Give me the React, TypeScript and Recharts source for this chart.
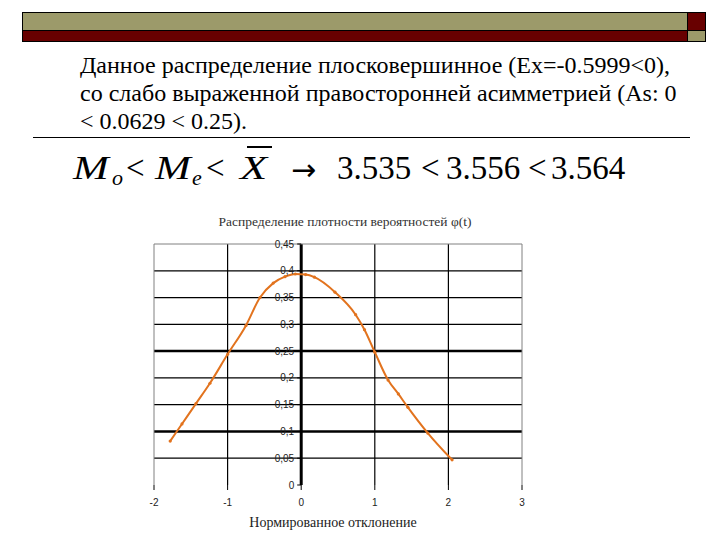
import React from "react";
import { LineChart, Line, XAxis, YAxis, ReferenceLine } from "recharts";

// значения
const T = [-1.78, -1.62, -1.43, -1.24, -1.0, -0.75, -0.56, -0.38, -0.22, -0.08, 0.06, 0.18, 0.46, 0.74, 0.86, 1.0, 1.18, 1.32, 1.45, 1.72, 2.05];
const PHI = [0.082, 0.114, 0.152, 0.19, 0.244, 0.298, 0.35, 0.377, 0.389, 0.394, 0.393, 0.388, 0.36, 0.318, 0.29, 0.248, 0.196, 0.17, 0.145, 0.097, 0.047];
const X_TICKS = [-2, -1, 0, 1, 2, 3];
const Y_TICKS = [0, 0.05, 0.1, 0.15, 0.2, 0.25, 0.3, 0.35, 0.4, 0.45];
const THICK_Y = [0.1, 0.25];

const TEXT_LINES = [
  "Данное распределение плосковершинное (Ex=-0.5999<0),",
  "со слабо выраженной правосторонней асимметрией (As: 0",
  "< 0.0629 < 0.25).",
];
const CHART_TITLE = "Распределение плотности вероятностей φ(t)";
const X_TITLE = "Нормированное отклонение";

const SERIF = '"Liberation Serif", serif';
const SANS = '"Liberation Sans", sans-serif';

const OLIVE = "#9C9A6A";
const DARK_RED = "#680000";
const LINE_COLOR = "#E2731E";

const CHART_W = 460;
const CHART_H = 340;
const Y_AXIS_W = 40;
const MARGIN = { top: 44, right: 38, left: 54 - Y_AXIS_W, bottom: 25 };
const PLOT_LEFT = MARGIN.left + Y_AXIS_W;
const PLOT_W = CHART_W - PLOT_LEFT - MARGIN.right;
// пиксель оси x=0 внутри графика
const AX0 = PLOT_LEFT + (PLOT_W * (0 - X_TICKS[0])) / (X_TICKS[X_TICKS.length - 1] - X_TICKS[0]);

const data = T.map((t, i) => ({ t, phi: PHI[i] }));

// eslint-disable-next-line @typescript-eslint/no-explicit-any
function YTick(props: any) {
  const { y, payload } = props;
  const label = String(payload.value).replace(".", ",");
  return (
    <g>
      <line x1={AX0 - 4} x2={AX0} y1={y} y2={y} stroke="#000" />
      <text x={AX0 - 7} y={y} dy={3.5} textAnchor="end" fontSize={10} fontFamily={SANS} fill="#222">
        {label}
      </text>
    </g>
  );
}

function Tok({ x, base, size, italic, sx, font, children }: { x: number; base: number; size: number; italic?: boolean; sx?: number; font?: string; children: React.ReactNode }) {
  const top = base - ((size - size * 1.107) / 2 + size * 0.891);
  return (
    <span
      style={{
        position: "absolute",
        left: x,
        top,
        fontSize: size,
        lineHeight: 1,
        fontFamily: font || SERIF,
        fontStyle: italic ? "italic" : "normal",
        whiteSpace: "nowrap",
        transform: sx ? `scaleX(${sx})` : undefined,
        transformOrigin: "left",
      }}
    >
      {children}
    </span>
  );
}

export default function App() {
  return (
    <div
      style={{
        position: "fixed",
        left: 0,
        top: 0,
        width: 720,
        height: 540,
        background: "#fff",
        overflow: "hidden",
        fontFamily: SERIF,
        color: "#000",
      }}
    >
      {/* шапка слайда */}
      <div style={{ position: "absolute", left: 22, top: 12, width: 666, height: 19, background: OLIVE, border: "1px solid #000", boxSizing: "border-box" }} />
      <div style={{ position: "absolute", left: 22, top: 30, width: 666, height: 12, background: DARK_RED, border: "1px solid #000", boxSizing: "border-box" }} />
      <div style={{ position: "absolute", left: 687, top: 12, width: 19, height: 19, background: DARK_RED, border: "1px solid #000", boxSizing: "border-box" }} />
      <div style={{ position: "absolute", left: 687, top: 30, width: 19, height: 12, background: OLIVE, border: "1px solid #000", boxSizing: "border-box" }} />

      {/* текст */}
      <div style={{ position: "absolute", left: 80, top: 51, fontSize: 24, lineHeight: "28px", whiteSpace: "nowrap" }}>
        {TEXT_LINES.map((l, i) => (
          <div key={i}>{l}</div>
        ))}
      </div>
      <div style={{ position: "absolute", left: 33, top: 137, width: 657, height: 1, background: "#000" }} />

      {/* формула */}
      <Tok x={73} base={180} size={33} italic sx={1.3}>M</Tok>
      <Tok x={112} base={185} size={22} italic>o</Tok>
      <Tok x={126} base={180} size={33}>&lt;</Tok>
      <Tok x={155} base={180} size={33} italic sx={1.3}>M</Tok>
      <Tok x={192} base={185} size={22} italic>e</Tok>
      <Tok x={206} base={180} size={33}>&lt;</Tok>
      <Tok x={240} base={180} size={33} italic sx={1.35}>X</Tok>
      <div style={{ position: "absolute", left: 247, top: 146, width: 25, height: 1.5, background: "#000" }} />
      <Tok x={291} base={180} size={30} font='"DejaVu Sans", sans-serif'>→</Tok>
      <Tok x={337} base={180} size={33}>3.535</Tok>
      <Tok x={421} base={180} size={33}>&lt;</Tok>
      <Tok x={446} base={180} size={33}>3.556</Tok>
      <Tok x={528} base={180} size={33}>&lt;</Tok>
      <Tok x={551} base={180} size={33}>3.564</Tok>

      {/* график */}
      <div style={{ position: "absolute", left: 345, top: 214, transform: "translateX(-50%)", fontSize: 13.5, whiteSpace: "nowrap", color: "#333" }}>
        {CHART_TITLE}
      </div>
      <div style={{ position: "absolute", left: 100, top: 200 }}>
        <LineChart width={CHART_W} height={CHART_H} data={data} margin={MARGIN}>
          <XAxis
            type="number"
            dataKey="t"
            domain={[X_TICKS[0], X_TICKS[X_TICKS.length - 1]]}
            ticks={X_TICKS}
            allowDataOverflow
            height={30}
            axisLine={false}
            tickLine={{ stroke: "#000" }}
            tickSize={5}
            tickMargin={9}
            tick={{ fontSize: 10, fontFamily: SANS, fill: "#222" }}
          />
          <YAxis
            type="number"
            domain={[Y_TICKS[0], Y_TICKS[Y_TICKS.length - 1]]}
            ticks={Y_TICKS}
            interval={0}
            width={Y_AXIS_W}
            axisLine={false}
            tickLine={false}
            tick={<YTick />}
          />
          {Y_TICKS.slice(1, -1).map((v) => (
            <ReferenceLine key={`h${v}`} y={v} stroke="#000" strokeWidth={THICK_Y.includes(v) ? 2.5 : 1.2} ifOverflow="visible" />
          ))}
          {X_TICKS.slice(1, -1).map((v) => (
            <ReferenceLine key={`v${v}`} x={v} stroke="#000" strokeWidth={v === 0 ? 3 : 1.2} ifOverflow="visible" />
          ))}
          <ReferenceLine y={Y_TICKS[Y_TICKS.length - 1]} stroke="#808080" ifOverflow="visible" />
          <ReferenceLine x={X_TICKS[0]} stroke="#808080" ifOverflow="visible" />
          <ReferenceLine x={X_TICKS[X_TICKS.length - 1]} stroke="#808080" ifOverflow="visible" />
          <Line
            type="monotone"
            dataKey="phi"
            stroke={LINE_COLOR}
            strokeWidth={2}
            dot={{ r: 1.6, fill: LINE_COLOR, stroke: "none" }}
            isAnimationActive={false}
          />
        </LineChart>
      </div>
      <div style={{ position: "absolute", left: 333, top: 515, transform: "translateX(-50%)", fontSize: 14, whiteSpace: "nowrap", color: "#222" }}>
        {X_TITLE}
      </div>
    </div>
  );
}
